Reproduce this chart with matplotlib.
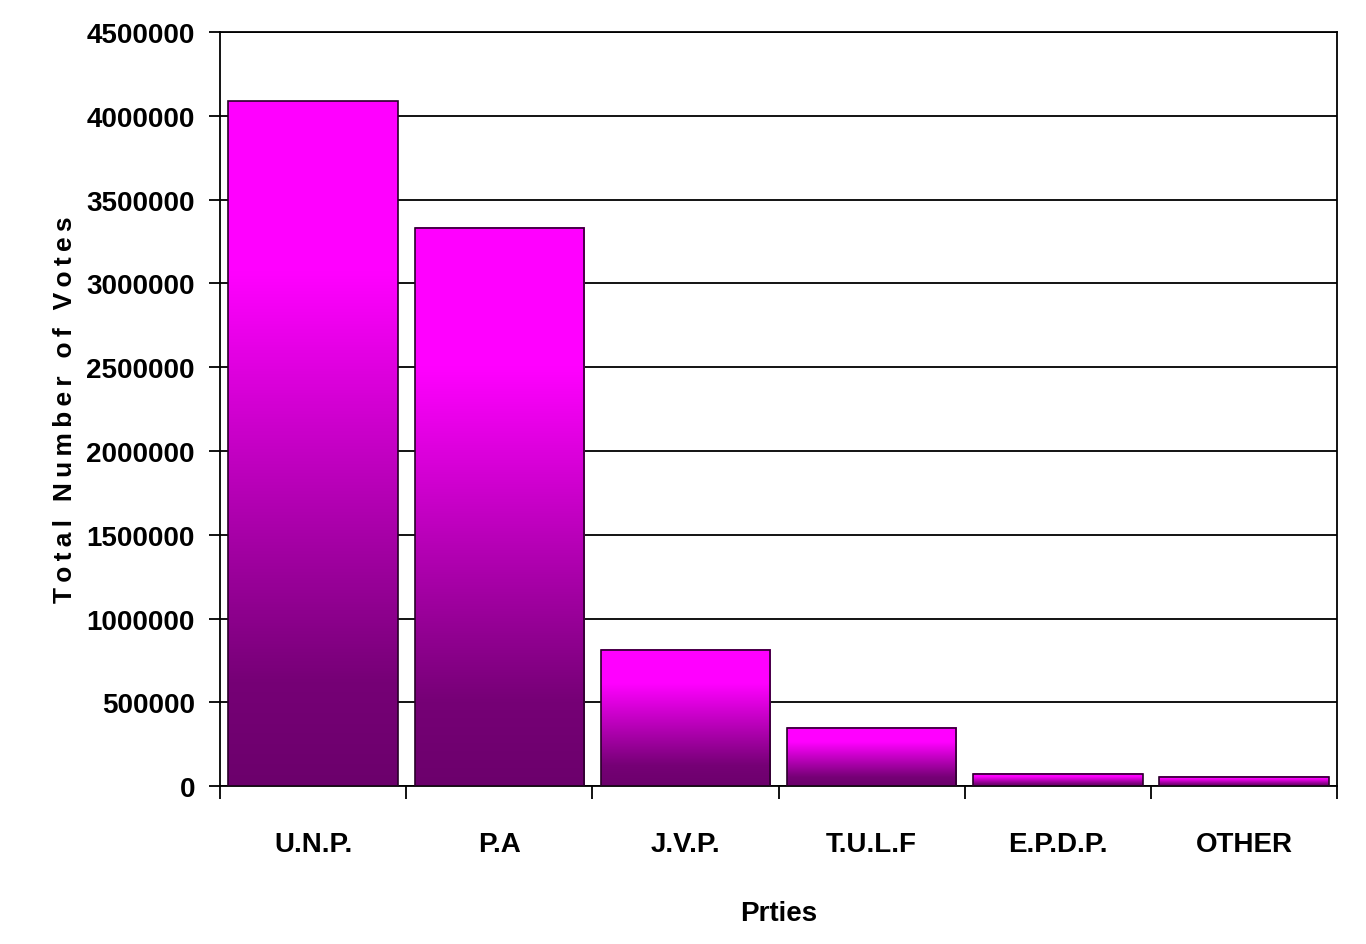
import numpy as np
import matplotlib
matplotlib.use("Agg")
import matplotlib.pyplot as plt
from matplotlib.colors import LinearSegmentedColormap

parties = ["U.N.P.", "P.A", "J.V.P.", "T.U.L.F", "E.P.D.P.", "OTHER"]
votes = [4086026, 3330815, 815353, 348164, 72783, 55000]
yticks = [0, 500000, 1000000, 1500000, 2000000, 2500000, 3000000, 3500000, 4000000, 4500000]

narrow = ["Liberation Sans Narrow", "Liberation Sans", "DejaVu Sans"]

# magenta at top fading to dark purple at bottom
grad = LinearSegmentedColormap.from_list(
    "mag", [(0.0, "#6c006c"), (0.15, "#760076"), (0.75, "#ff00ff"), (1.0, "#ff00ff")])

fig = plt.figure(figsize=(13.66, 9.45), dpi=100)
ax = fig.add_axes([0.161, 0.167, 0.818, 0.798])

x = np.arange(len(parties))
width = 0.91
bars = ax.bar(x, votes, width=width, facecolor="none", edgecolor="#2a002a", linewidth=1.2, zorder=3)

g = np.linspace(0, 1, 256).reshape(-1, 1)
for b in bars:
    x0, y0 = b.get_x(), b.get_y()
    ax.imshow(g, cmap=grad, origin="lower", aspect="auto",
              extent=[x0, x0 + b.get_width(), y0, y0 + b.get_height()], zorder=2)

ax.set_xlim(-0.5, len(parties) - 0.5)
ax.set_ylim(0, 4500000)
ax.set_yticks(yticks)
ax.set_yticklabels([str(v) for v in yticks], family=narrow, fontsize=20, fontweight="bold")
ax.grid(axis="y", color="black", linewidth=1.3, zorder=1)
ax.set_axisbelow(True)

ax.set_xticks(x)
ax.set_xticklabels(parties, family=narrow, fontsize=20, fontweight="bold")
ax.tick_params(axis="x", length=0, pad=32)
ax.set_xticks(np.arange(len(parties) + 1) - 0.5, minor=True)
ax.tick_params(axis="x", which="minor", length=9, width=1.3, direction="out")
ax.tick_params(axis="y", length=8, width=1.3, direction="out", pad=10)

for s in ax.spines.values():
    s.set_linewidth(1.3)
    s.set_color("black")

ax.set_xlabel("Prties", family=narrow, fontsize=20, fontweight="bold", labelpad=31)
ylab = "\u2009".join("Total Number of Votes")
ax.set_ylabel(ylab, family=["Liberation Sans", "DejaVu Sans"], fontsize=19, fontweight="bold", labelpad=7)

fig.savefig("out.png", dpi=100, facecolor="white")
